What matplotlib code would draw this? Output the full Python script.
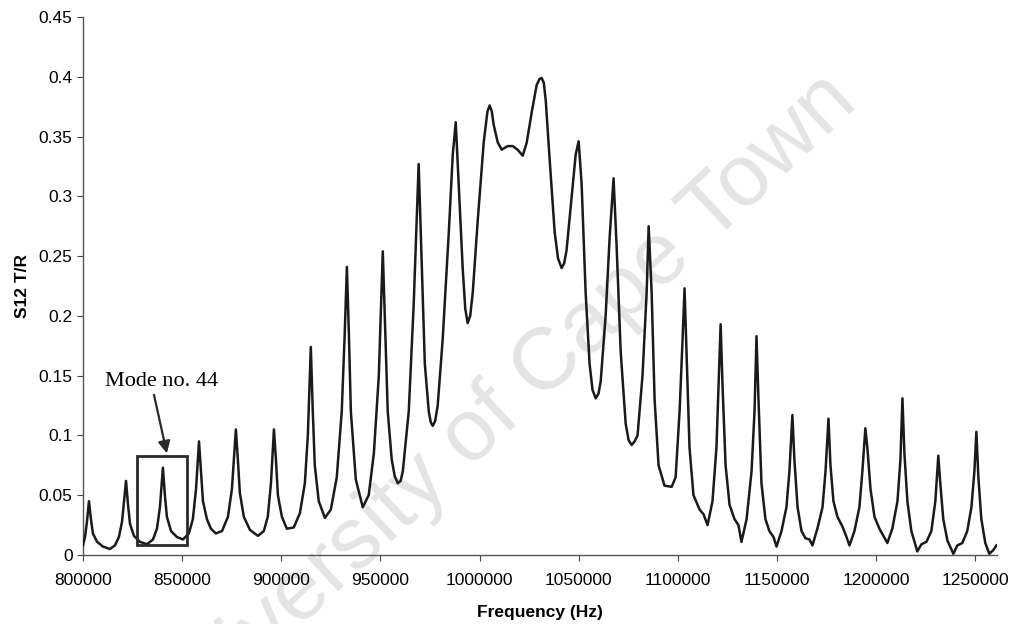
import matplotlib
matplotlib.use("Agg")
import matplotlib.pyplot as plt
from matplotlib.patches import Rectangle

# S12 transmission (Hz, T/R)
freq_hz = [
    800000, 801000, 802000, 803000, 804000, 805000, 807100, 810100, 813600, 816100,
    818100, 819700, 820700, 821700, 822700, 823700, 825700, 828700, 832300, 835300,
    837300, 838800, 840300, 841300, 842300, 844400, 847400, 850400, 853400, 855400,
    857000, 858500, 859500, 860500, 862500, 864500, 867000, 870100, 873100, 875100,
    877100, 878100, 879100, 881100, 884200, 888200, 891200, 893200, 894800, 896300,
    897300, 898300, 900300, 902800, 906300, 909400, 911900, 913400, 914900, 915900,
    916900, 918900, 922000, 925000, 928000, 930500, 932000, 933100, 934100, 935100,
    937600, 941100, 944100, 946700, 949200, 951200, 952200, 953700, 955700, 957200,
    958800, 960200, 961300, 964300, 966800, 968300, 969300, 970900, 972400, 974400,
    975400, 976400, 977600, 978900, 981400, 984500, 986500, 988000, 989500, 991500,
    992800, 994000, 995300, 996600, 999100, 1002100, 1004000, 1005100, 1006200, 1007100,
    1009200, 1011200, 1014200, 1016700, 1019200, 1021800, 1023800, 1026300, 1028800, 1030200,
    1031300, 1032400, 1033400, 1035400, 1037900, 1039600, 1041400, 1042700, 1043900, 1046500,
    1048500, 1050000, 1051500, 1053500, 1055500, 1057000, 1058600, 1060000, 1061100, 1063600,
    1065600, 1067600, 1069100, 1071200, 1073700, 1075200, 1076700, 1078200, 1079700, 1082200,
    1084300, 1085300, 1086800, 1088300, 1090300, 1093300, 1096900, 1098900, 1100900, 1102400,
    1103400, 1104400, 1105900, 1107900, 1111000, 1113000, 1115000, 1117500, 1119500, 1121600,
    1122600, 1124100, 1126100, 1128600, 1130600, 1132100, 1134700, 1137200, 1138700, 1139700,
    1140700, 1142200, 1144200, 1146200, 1148300, 1149800, 1152300, 1154800, 1156300, 1157800,
    1158800, 1160400, 1162400, 1164400, 1166400, 1167900, 1170400, 1173000, 1174500, 1176000,
    1177000, 1178500, 1180500, 1183000, 1185100, 1186600, 1189100, 1191600, 1193100, 1194600,
    1195600, 1197200, 1199200, 1201700, 1203700, 1205700, 1208200, 1210800, 1212300, 1213300,
    1214300, 1215800, 1217800, 1220800, 1222900, 1225400, 1227900, 1229900, 1231400, 1232400,
    1233900, 1236000, 1239000, 1241000, 1243500, 1246000, 1248100, 1249600, 1250600, 1251600,
    1253100, 1255100, 1257100, 1259100, 1260700,
]
s12 = [
    0.008, 0.015, 0.028, 0.045, 0.030, 0.018, 0.011, 0.007, 0.005, 0.008,
    0.015, 0.028, 0.045, 0.062, 0.042, 0.026, 0.016, 0.011, 0.009, 0.013,
    0.022, 0.040, 0.073, 0.050, 0.032, 0.020, 0.015, 0.013, 0.018, 0.030,
    0.055, 0.095, 0.070, 0.045, 0.030, 0.022, 0.018, 0.020, 0.032, 0.055,
    0.105, 0.080, 0.052, 0.032, 0.021, 0.016, 0.020, 0.032, 0.060, 0.105,
    0.080, 0.050, 0.032, 0.022, 0.023, 0.035, 0.060, 0.100, 0.174, 0.120,
    0.075, 0.045, 0.031, 0.038, 0.065, 0.120, 0.185, 0.241, 0.185, 0.120,
    0.063, 0.040, 0.050, 0.085, 0.150, 0.254, 0.200, 0.120, 0.080, 0.066,
    0.060, 0.062, 0.070, 0.120, 0.210, 0.280, 0.327, 0.240, 0.160, 0.120,
    0.111, 0.108, 0.112, 0.125, 0.180, 0.270, 0.335, 0.362, 0.310, 0.240,
    0.206, 0.194, 0.200, 0.220, 0.280, 0.345, 0.371, 0.376, 0.371, 0.360,
    0.345, 0.339, 0.342, 0.342, 0.339, 0.334, 0.345, 0.370, 0.393, 0.398,
    0.399, 0.395, 0.380, 0.330, 0.270, 0.248, 0.240, 0.244, 0.255, 0.300,
    0.335, 0.346, 0.310, 0.220, 0.160, 0.138, 0.131, 0.135, 0.145, 0.200,
    0.265, 0.315, 0.260, 0.170, 0.110, 0.096, 0.092, 0.095, 0.100, 0.150,
    0.220, 0.275, 0.220, 0.130, 0.075, 0.058, 0.057, 0.065, 0.120, 0.180,
    0.223, 0.170, 0.090, 0.050, 0.038, 0.034, 0.025, 0.045, 0.090, 0.193,
    0.140, 0.075, 0.042, 0.030, 0.025, 0.011, 0.030, 0.070, 0.120, 0.183,
    0.130, 0.060, 0.030, 0.020, 0.015, 0.007, 0.020, 0.040, 0.070, 0.117,
    0.080, 0.040, 0.020, 0.014, 0.013, 0.008, 0.022, 0.040, 0.070, 0.114,
    0.075, 0.045, 0.032, 0.024, 0.015, 0.008, 0.020, 0.040, 0.070, 0.106,
    0.090, 0.055, 0.032, 0.022, 0.016, 0.010, 0.022, 0.045, 0.080, 0.131,
    0.085, 0.045, 0.020, 0.003, 0.009, 0.011, 0.020, 0.045, 0.083, 0.060,
    0.030, 0.012, 0.001, 0.008, 0.010, 0.020, 0.040, 0.070, 0.103, 0.065,
    0.030, 0.010, 0.001, 0.004, 0.008,
]

x_ticks = [800000, 850000, 900000, 950000, 1000000, 1050000, 1100000, 1150000, 1200000, 1250000]
y_ticks = [0, 0.05, 0.1, 0.15, 0.2, 0.25, 0.3, 0.35, 0.4, 0.45]
y_tick_labels = ["0", "0.05", "0.1", "0.15", "0.2", "0.25", "0.3", "0.35", "0.4", "0.45"]

# box drawn round mode 44, label and arrow
mode_box = (827000, 0.008, 25500, 0.075)
mode_label = "Mode no. 44"
label_pos = (839800, 0.145)
arrow_from = (835800, 0.134)
arrow_to = (842300, 0.085)

plt.rcParams['font.family'] = ['Liberation Sans', 'DejaVu Sans']

fig = plt.figure(figsize=(10.16, 6.24), dpi=100)
ax = fig.add_axes([0.0817, 0.1106, 0.8996, 0.8622])

# faint watermark behind everything (runs off the page, as in the scan)
fig.text(0.492, 0.343, "University of Cape Town", rotation=43, fontsize=63,
         color="#e4e4e4", ha="center", va="center", rotation_mode="anchor", zorder=-1)
ax.set_facecolor("none")

ax.plot(freq_hz, s12, color="#1a1a1a", linewidth=1.8, zorder=3)

ax.add_patch(Rectangle((mode_box[0], mode_box[1]), mode_box[2], mode_box[3],
                       fill=False, edgecolor="#2a2a2a", linewidth=2.0, zorder=4))
ax.text(label_pos[0], label_pos[1], mode_label, fontsize=16,
        family="Liberation Serif", ha="center", va="center", zorder=5)
ax.annotate("", xy=arrow_to, xytext=arrow_from,
            arrowprops=dict(arrowstyle="-|>", color="#2a2a2a", lw=1.6,
                            mutation_scale=18, shrinkA=0, shrinkB=0),
            zorder=5)

ax.set_xlim(800000, 1261000)
ax.set_ylim(0, 0.45)
ax.set_xticks(x_ticks)
ax.set_xticklabels([str(t) for t in x_ticks])
ax.set_yticks(y_ticks)
ax.set_yticklabels(y_tick_labels)
ax.tick_params(labelsize=12.5, direction="out", length=4, width=0.8, color="#444444")
ax.tick_params(axis="x", pad=9)

for side in ["top", "right"]:
    ax.spines[side].set_visible(False)
for side in ["left", "bottom"]:
    ax.spines[side].set_color("#555555")
    ax.spines[side].set_linewidth(1.0)

ax.set_xlabel("Frequency (Hz)", fontsize=12.5, fontweight="bold", labelpad=12)
ax.set_ylabel("S12 T/R", fontsize=12.5, fontweight="bold", labelpad=6)

fig.savefig("out.png", dpi=100)
